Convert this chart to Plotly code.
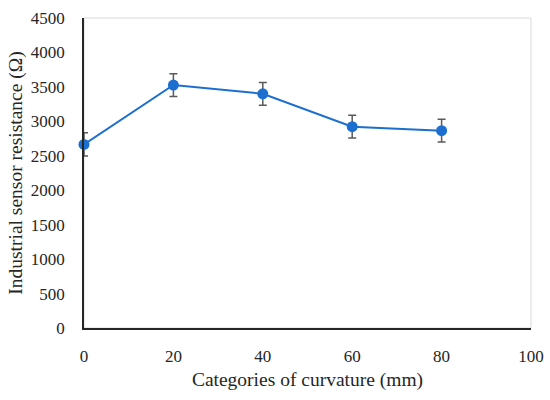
import plotly.graph_objects as go

# Curvature categories and measured resistance.
curvature = [0, 20, 40, 60, 80]
resistance = [2665, 3527, 3400, 2922, 2864]
resistance_err = [170, 165, 165, 165, 165]

x_ticks = [0, 20, 40, 60, 80, 100]
y_ticks = [0, 500, 1000, 1500, 2000, 2500, 3000, 3500, 4000, 4500]

font_family = "Liberation Serif, DejaVu Serif, serif"

fig = go.Figure()
fig.add_trace(go.Scatter(
    x=curvature, y=resistance,
    mode='lines+markers',
    line=dict(color='#1c6fd0', width=2),
    marker=dict(color='#1c6fd0', size=11),
    error_y=dict(type='data', array=resistance_err, visible=True,
                 color='#5a5a5a', thickness=1.5, width=4),
    showlegend=False,
    cliponaxis=False,
))

# light frame on top and right
fig.add_shape(type='rect', xref='paper', yref='paper', x0=0, y0=0, x1=1, y1=1,
              line=dict(color='#d9d9d9', width=1), layer='below')

fig.update_layout(
    width=550, height=400,
    margin=dict(l=84, r=19, t=18, b=72),
    paper_bgcolor='white', plot_bgcolor='white',
    font=dict(family=font_family, size=17, color='#262626'),
    xaxis=dict(range=[0, 100], tickvals=x_ticks, showgrid=False,
               zeroline=False, showline=True, linecolor='#262626',
               linewidth=1.5, ticks='', ticklabelstandoff=12,
               automargin=False,
               title=dict(text='Categories of curvature (mm)', standoff=7,
                          font=dict(size=19.5))),
    yaxis=dict(range=[0, 4500], tickvals=y_ticks, showgrid=False,
               zeroline=False, showline=True, linecolor='#262626',
               linewidth=1.5, ticks='', ticklabelstandoff=14,
               automargin=False,
               title=dict(text='Industrial sensor resistance (Ω)', standoff=3,
                          font=dict(size=19.5))),
)

# drop the default page margin so the 550x400 figure fills the window
fig.write_html("out.html", config={'displayModeBar': False},
               post_script="document.body.style.margin='0';"
                           "document.body.style.overflow='hidden';")
